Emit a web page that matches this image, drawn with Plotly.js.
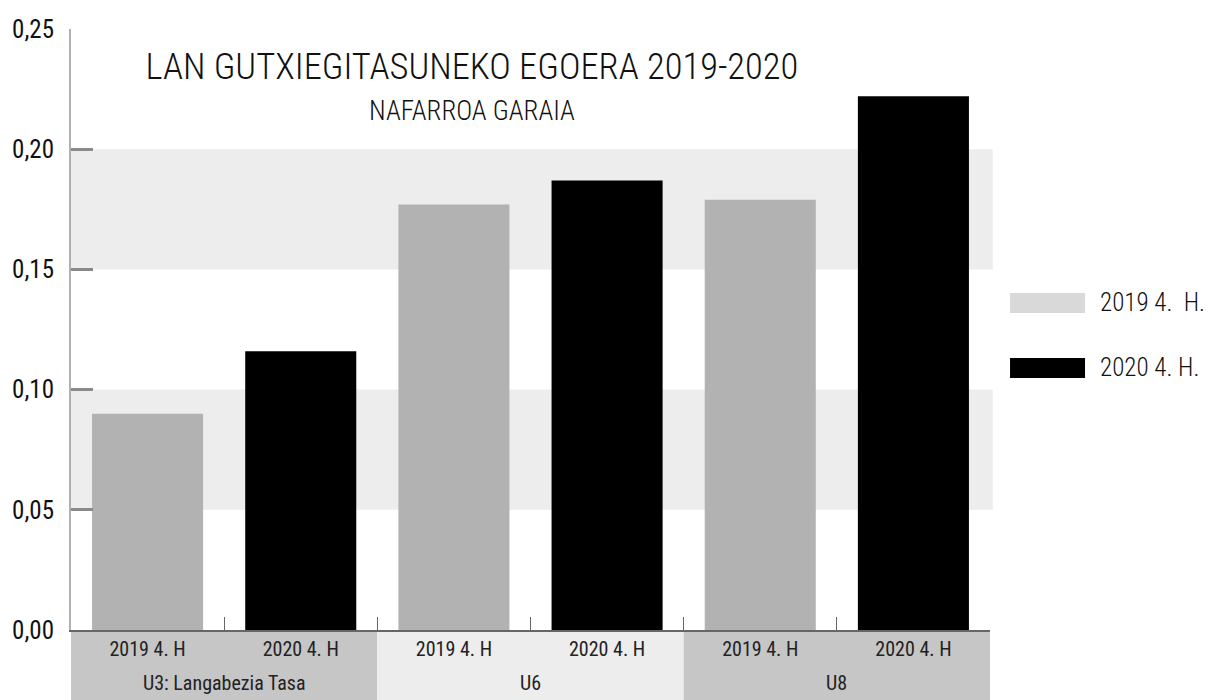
<!DOCTYPE html>
<html>
<head>
<meta charset="utf-8">
<script src="https://cdn.plot.ly/plotly-3.0.1.min.js"></script>
<style>html,body{margin:0;padding:0;background:#fff;}#chart{width:1219px;height:700px;}</style>
</head>
<body>
<div id="chart"></div>
<script>
// ---- data ----
var groups = ["U3: Langabezia Tasa", "U6", "U8"];
var periods = ["2019 4. H", "2020 4. H"];
var seriesNames = ["2019 4.  H.", "2020 4. H."];
var values2019 = [0.090, 0.177, 0.179];
var values2020 = [0.116, 0.187, 0.222];
var yTicks = [0, 0.05, 0.10, 0.15, 0.20, 0.25];
var titleText = "LAN GUTXIEGITASUNEKO EGOERA 2019-2020";
var subtitleText = "NAFARROA GARAIA";

var FONT = "'Roboto Condensed', 'Liberation Sans Narrow', 'DejaVu Sans Condensed', Roboto, sans-serif";

// unique category keys: group + period, shown with the period label only
var catKeys = [], catText = [];
groups.forEach(function(g){ periods.forEach(function(p){ catKeys.push(g + ' | ' + p); catText.push(p); }); });
function keysFor(p){ return groups.map(function(g){ return g + ' | ' + p; }); }

var trace2019 = {
  type: 'bar', name: seriesNames[0],
  x: keysFor(periods[0]), y: values2019,
  marker: {color: '#b2b2b2'}, width: 0.725,
  showlegend: false, hoverinfo: 'y'
};
var trace2020 = {
  type: 'bar', name: seriesNames[1],
  x: keysFor(periods[1]), y: values2020,
  marker: {color: '#000000'}, width: 0.725,
  showlegend: false, hoverinfo: 'y'
};

var shapes = [];
[[0.05, 0.10], [0.15, 0.20]].forEach(function(b){
  shapes.push({type:'rect', xref:'paper', yref:'y', x0:0, x1:1.003, y0:b[0], y1:b[1],
    fillcolor:'#ededed', line:{width:0}, layer:'below'});
});
var groupFill = ['#c6c6c6', '#ededed', '#c6c6c6'];
var annotations = [];
for (var g=0; g<groups.length; g++){
  shapes.push({type:'rect', xref:'paper', yref:'paper', x0:g/groups.length, x1:(g+1)/groups.length,
    y0:-0.12, y1:0, fillcolor:groupFill[g], line:{width:0}, layer:'below'});
  annotations.push({xref:'x', yref:'paper', x:g*periods.length + (periods.length-1)/2, y:-(683-630)/601,
    xanchor:'center', yanchor:'middle', text:groups[g], showarrow:false,
    font:{family:FONT, size:20, color:'#222'}});
}
var legColors = ['#d9d9d9', '#000000'];
var legY = [[0.5275, 0.5607], [0.4193, 0.4526]];
for (var k=0; k<2; k++){
  shapes.push({type:'rect', xref:'paper', yref:'paper', x0:1.0218, x1:1.1034, y0:legY[k][0], y1:legY[k][1],
    fillcolor:legColors[k], line:{width:0}});
  annotations.push({xref:'paper', yref:'paper', x:1.118, y:(legY[k][0]+legY[k][1])/2,
    xanchor:'left', yanchor:'middle', text:seriesNames[k], showarrow:false,
    font:{family:FONT, size:25, color:'#111', weight:300}});
}
annotations.push({xref:'paper', yref:'paper', x:(472-71)/919, y:(630-111)/601, xanchor:'center', yanchor:'middle',
  text:subtitleText, showarrow:false, font:{family:FONT, size:27, color:'#111', weight:300}});

var layout = {
  width: 1219, height: 700,
  margin: {l:71, r:229, t:29, b:70},
  paper_bgcolor: '#ffffff',
  plot_bgcolor: 'rgba(0,0,0,0)',
  barmode: 'overlay',
  title: {text: titleText, x:(472-71)/919, xref:'paper', xanchor:'center', y:1-66/700, yref:'container', yanchor:'middle',
    font:{family:FONT, size:36.5, color:'#111', weight:300}},
  xaxis: {
    type: 'category',
    categoryorder: 'array', categoryarray: catKeys,
    tickvals: catKeys, ticktext: catText,
    range: [-0.5, catKeys.length - 0.5],
    showline: true, linecolor: '#666', linewidth: 1.5,
    ticks: 'inside', tickson: 'boundaries', ticklen: 13, tickcolor: '#666', tickwidth: 1.2,
    showgrid: false, zeroline: false,
    tickfont: {family: FONT, size: 20, color: '#222'}
  },
  yaxis: {
    range: [0, 0.25],
    tickvals: yTicks,
    tickformat: '.2f',
    showline: true, linecolor: '#b0b0b0', linewidth: 2,
    ticks: 'inside', ticklen: 22, tickcolor: '#8a8a8a', tickwidth: 3,
    showgrid: false, zeroline: false,
    ticklabelstandoff: 10,
    tickfont: {family: FONT, size: 25, color: '#111'}
  },
  separators: ',.',
  shapes: shapes,
  annotations: annotations,
  font: {family: FONT}
};

Plotly.newPlot('chart', [trace2019, trace2020], layout, {displayModeBar:false, staticPlot:true});
</script>
</body>
</html>
